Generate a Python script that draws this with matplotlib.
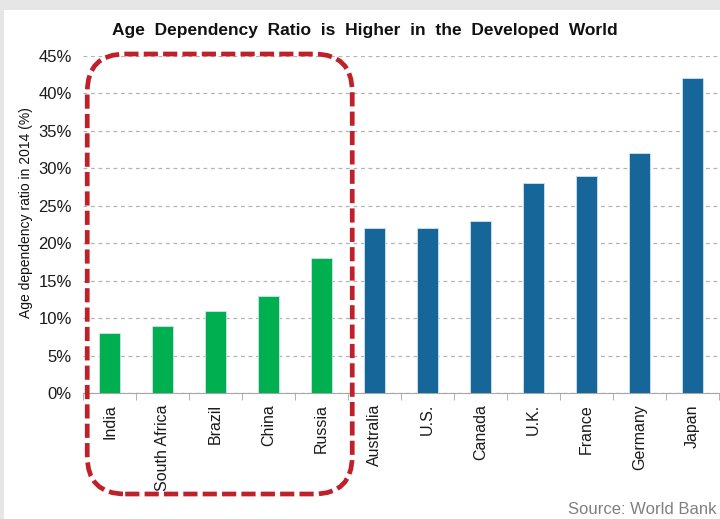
import matplotlib.pyplot as plt
from matplotlib.patches import FancyBboxPatch, Rectangle
from matplotlib.transforms import IdentityTransform
from matplotlib.ticker import FixedLocator, PercentFormatter

plt.rcParams['font.family'] = ['Liberation Sans', 'DejaVu Sans']

emerging = ["India", "South Africa", "Brazil", "China", "Russia"]
emerging_vals = [8, 9, 11, 13, 18]
developed = ["Australia", "U.S.", "Canada", "U.K.", "France", "Germany", "Japan"]
developed_vals = [22, 22, 23, 28, 29, 32, 42]

countries = emerging + developed
values = emerging_vals + developed_vals
colors = ["#00b050"] * len(emerging) + ["#176699"] * len(developed)

W, H = 720, 519
fig = plt.figure(figsize=(W / 100, H / 100), dpi=100)
fig.patch.set_facecolor("#e6e6e6")
# white page inside the grey frame
fig.patches.append(Rectangle((4 / W, 0), 1 - 4 / W, 1 - 10 / H,
                             transform=fig.transFigure, facecolor="white",
                             edgecolor="none", zorder=-10))

ax = fig.add_axes([83 / W, (H - 393) / H, (719 - 83) / W, (393 - 56) / H])
ax.set_facecolor("none")

x = list(range(len(countries)))
ax.bar(x, values, width=0.4, color=colors, edgecolor="#cfe3ef", linewidth=0.6, zorder=3)

ax.set_xlim(-0.5, len(countries) - 0.5)
ax.set_ylim(0, 45)
ax.yaxis.set_major_locator(FixedLocator(range(0, 46, 5)))
ax.yaxis.set_major_formatter(PercentFormatter(decimals=0))
ax.grid(axis="y", linestyle=(0, (3, 3)), color="#b3b3b3", linewidth=0.9, zorder=0)

ax.set_xticks(x)
ax.set_xticklabels(countries, rotation=90, va="top", ha="center")
ax.set_xticks([i - 0.5 for i in range(len(countries) + 1)], minor=True)
ax.tick_params(axis="x", which="major", length=0, pad=8, labelsize=11.5, labelcolor="#1a1a1a")
ax.tick_params(axis="x", which="minor", length=5, color="#a6a6a6", direction="out")
ax.tick_params(axis="y", length=0, pad=8, labelsize=12, labelcolor="#1a1a1a")

for s in ["top", "right", "left"]:
    ax.spines[s].set_visible(False)
ax.spines["bottom"].set_color("#a6a6a6")

ax.set_ylabel("Age dependency ratio in 2014 (%)", fontsize=10, color="#111111")
ax.yaxis.set_label_coords(-0.078, 0.535)

fig.text(365 / W, 1 - 31 / H, "Age  Dependency  Ratio  is  Higher  in  the  Developed  World",
         ha="center", va="center", fontsize=12.5, fontweight="bold", color="#111111")
fig.text(716 / W, 1 - 509 / H, "Source: World Bank", ha="right", va="center",
         fontsize=12, color="#808080")

# dashed rounded box around the emerging economies
fig.canvas.draw()
left_px = ax.transData.transform((-0.42, 0))[0]
right_px = ax.transData.transform((len(emerging) - 0.42, 0))[0]
top_px = H - 54
bot_px = H - 494
pad = 38
box = FancyBboxPatch((left_px + pad, bot_px + pad), right_px - left_px - 2 * pad,
                     top_px - bot_px - 2 * pad,
                     boxstyle="round,pad=%d,rounding_size=%d" % (pad, pad),
                     transform=IdentityTransform(), fill=False,
                     edgecolor="#c0202a", linewidth=3.4, linestyle=(0, (3, 1.1)),
                     clip_on=False, zorder=5)
fig.patches.append(box)

fig.savefig("out.png", dpi=100, facecolor=fig.get_facecolor())
